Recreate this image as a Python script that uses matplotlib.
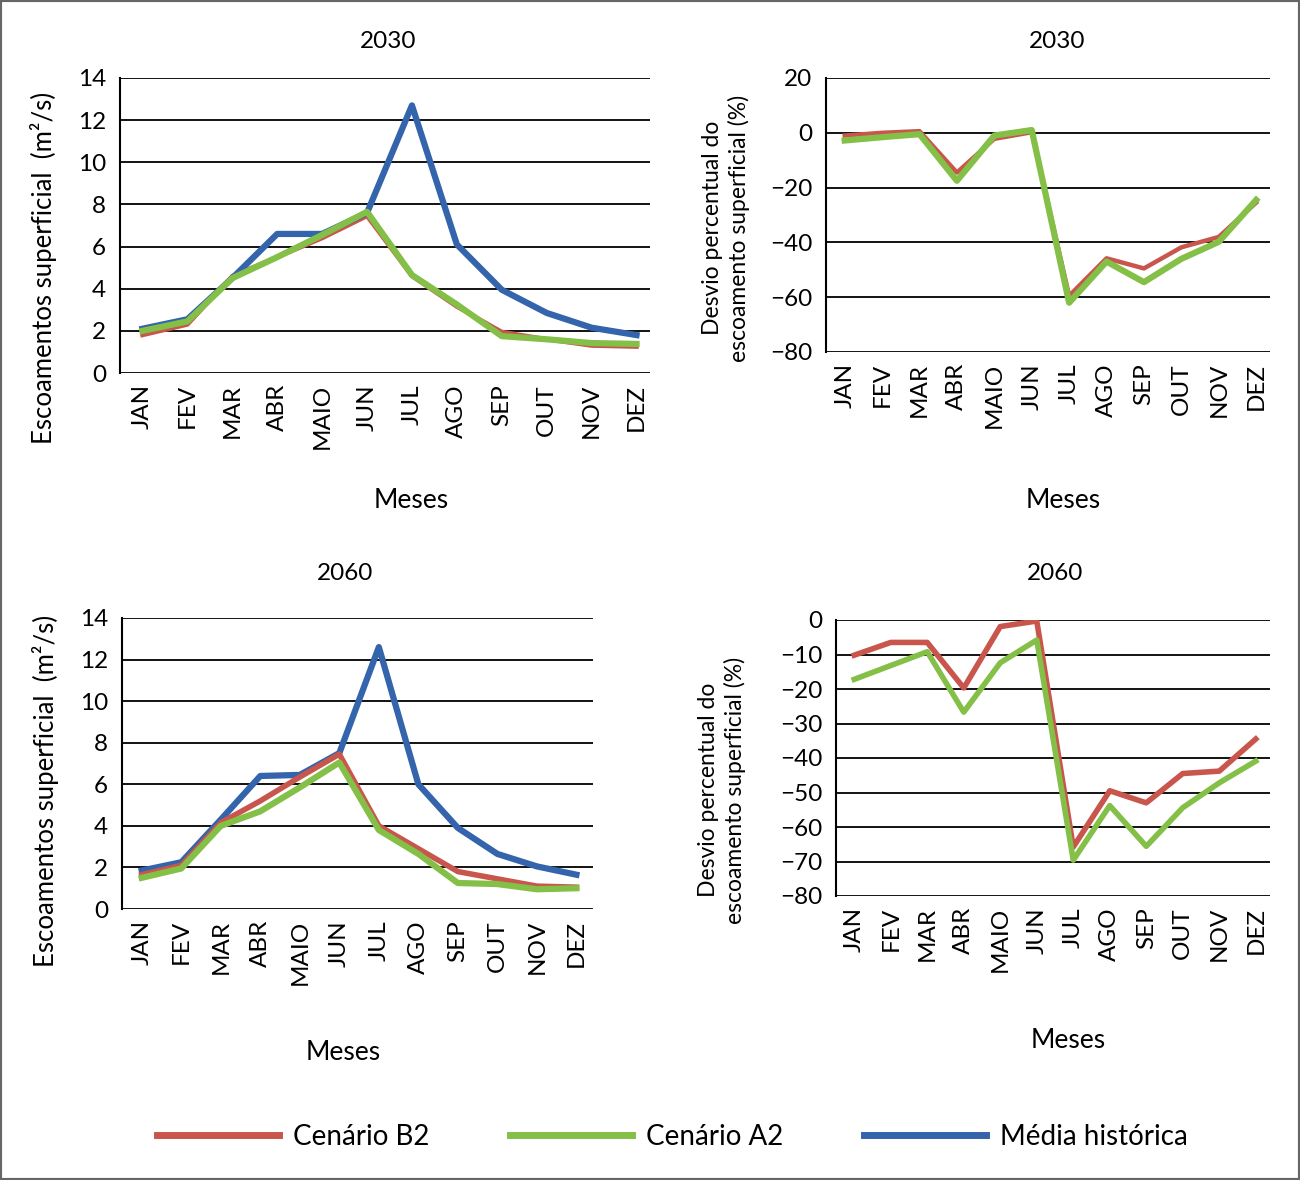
import matplotlib.pyplot as plt
from matplotlib.patches import Rectangle

plt.rcParams['font.family'] = ['Lato', 'DejaVu Sans']

meses = ['JAN', 'FEV', 'MAR', 'ABR', 'MAIO', 'JUN', 'JUL', 'AGO', 'SEP', 'OUT', 'NOV', 'DEZ']

# 2030 - escoamento (m2/s)
hist_2030 = [2.1, 2.55, 4.5, 6.6, 6.6, 7.6, 12.7, 6.1, 3.95, 2.85, 2.15, 1.8]
b2_2030 = [1.8, 2.3, 4.6, 5.5, 6.4, 7.45, 4.6, 3.15, 1.95, 1.6, 1.3, 1.25]
a2_2030 = [2.0, 2.45, 4.5, 5.5, 6.55, 7.65, 4.65, 3.25, 1.75, 1.6, 1.42, 1.38]

# 2030 - desvio (%)
b2_dev_2030 = [-1.0, 0.0, 0.6, -14.5, -2.2, 0.2, -59.5, -45.8, -49.5, -41.8, -38.0, -25.5]
a2_dev_2030 = [-2.8, -1.6, -0.5, -17.5, -1.0, 1.0, -62.0, -47.0, -54.5, -46.0, -39.8, -24.5]

# 2060 - escoamento (m2/s)
hist_2060 = [1.85, 2.25, 4.3, 6.4, 6.45, 7.5, 12.6, 6.0, 3.9, 2.65, 2.05, 1.65]
b2_2060 = [1.65, 2.1, 4.15, 5.2, 6.35, 7.45, 4.0, 2.9, 1.8, 1.45, 1.1, 1.05]
a2_2060 = [1.5, 1.95, 4.0, 4.7, 5.85, 7.05, 3.8, 2.65, 1.25, 1.2, 0.95, 1.0]

# 2060 - desvio (%)
b2_dev_2060 = [-10.2, -6.5, -6.5, -19.7, -1.9, -0.3, -65.8, -49.5, -53.0, -44.5, -43.8, -34.5]
a2_dev_2060 = [-17.2, -13.2, -9.2, -26.7, -12.4, -5.8, -69.6, -53.8, -65.6, -54.4, -47.2, -40.9]

RED = '#C9564C'
GREEN = '#84BF47'
BLUE = '#3464AB'
FS = 17.5

W, H = 1300, 1180
fig = plt.figure(figsize=(13, 11.8), dpi=100)


def px_axes(left, right, top, bottom):
    return fig.add_axes([left / W, 1 - bottom / H, (right - left) / W, (bottom - top) / H])


def style(ax, ylim, yticks, xmax):
    ax.set_xlim(-0.5, xmax)
    ax.set_ylim(*ylim)
    ax.set_yticks(yticks)
    ax.set_xticks(range(len(meses)))
    ax.set_xticklabels(meses, rotation=90, fontsize=FS)
    ax.tick_params(axis='y', labelsize=FS, length=0, pad=10)
    ax.tick_params(axis='x', length=0, pad=8)
    for s in ['top', 'right', 'bottom']:
        ax.spines[s].set_visible(False)
    ax.spines['left'].set_linewidth(1.5)
    ax.yaxis.grid(True, color='black', linewidth=1.3)
    ax.set_axisbelow(True)


x = range(len(meses))

ax1 = px_axes(120, 650, 78, 373)
ax1.plot(x, b2_2030, color=RED, lw=3.2)
ax1.plot(x, hist_2030, color=BLUE, lw=4.5)
ax1.plot(x, a2_2030, color=GREEN, lw=4.5)
style(ax1, (0, 14), range(0, 15, 2), 11.3)

ax2 = px_axes(826, 1270, 78, 352)
ax2.plot(x, b2_dev_2030, color=RED, lw=3.2)
ax2.plot(x, a2_dev_2030, color=GREEN, lw=4.5)
style(ax2, (-80, 20), range(-80, 21, 20), 11.37)

ax3 = px_axes(122, 593, 618, 909)
ax3.plot(x, hist_2060, color=BLUE, lw=4.5)
ax3.plot(x, b2_2060, color=RED, lw=4.0)
ax3.plot(x, a2_2060, color=GREEN, lw=4.5)
style(ax3, (0, 14), range(0, 15, 2), 11.42)

ax4 = px_axes(836, 1270, 620, 896)
ax4.plot(x, b2_dev_2060, color=RED, lw=4.0)
ax4.plot(x, a2_dev_2060, color=GREEN, lw=4.0)
style(ax4, (-80, 0), range(-80, 1, 10), 11.39)


def ftext(px, py, s, size=FS, **kw):
    fig.text(px / W, 1 - py / H, s, ha='center', va='center', fontsize=size, **kw)


ftext(388, 42, '2030')
ftext(1057, 42, '2030')
ftext(345, 574, '2060')
ftext(1055, 574, '2060')

ftext(411, 500, 'Meses', size=19)
ftext(1063, 500, 'Meses', size=19)
ftext(343, 1052, 'Meses', size=19)
ftext(1068, 1040, 'Meses', size=19)

ftext(44, 268, 'Escoamentos superficial  (m²/s)', size=18.5, rotation=90)
ftext(46, 791, 'Escoamentos superficial  (m²/s)', size=18.5, rotation=90)
ftext(726, 228, 'Desvio percentual do\nescoamento superficial (%)', size=16.5,
      rotation=90, linespacing=1.25)
ftext(722, 790, 'Desvio percentual do\nescoamento superficial (%)', size=16.5,
      rotation=90, linespacing=1.25)

leg_lines = [plt.Line2D([], [], color=RED, lw=5),
             plt.Line2D([], [], color=GREEN, lw=5),
             plt.Line2D([], [], color=BLUE, lw=5)]
fig.legend(leg_lines, ['Cenário B2', 'Cenário A2', 'Média histórica'],
           loc='center', bbox_to_anchor=(672 / W, 1 - 1137 / H), ncol=3,
           frameon=False, fontsize=20, handlelength=4.4, handletextpad=0.5,
           columnspacing=2.9)

fig.patches.append(Rectangle((0, 0), 1, 1, transform=fig.transFigure, fill=False,
                             edgecolor='#666666', linewidth=3))

fig.savefig('out.png', dpi=100)
